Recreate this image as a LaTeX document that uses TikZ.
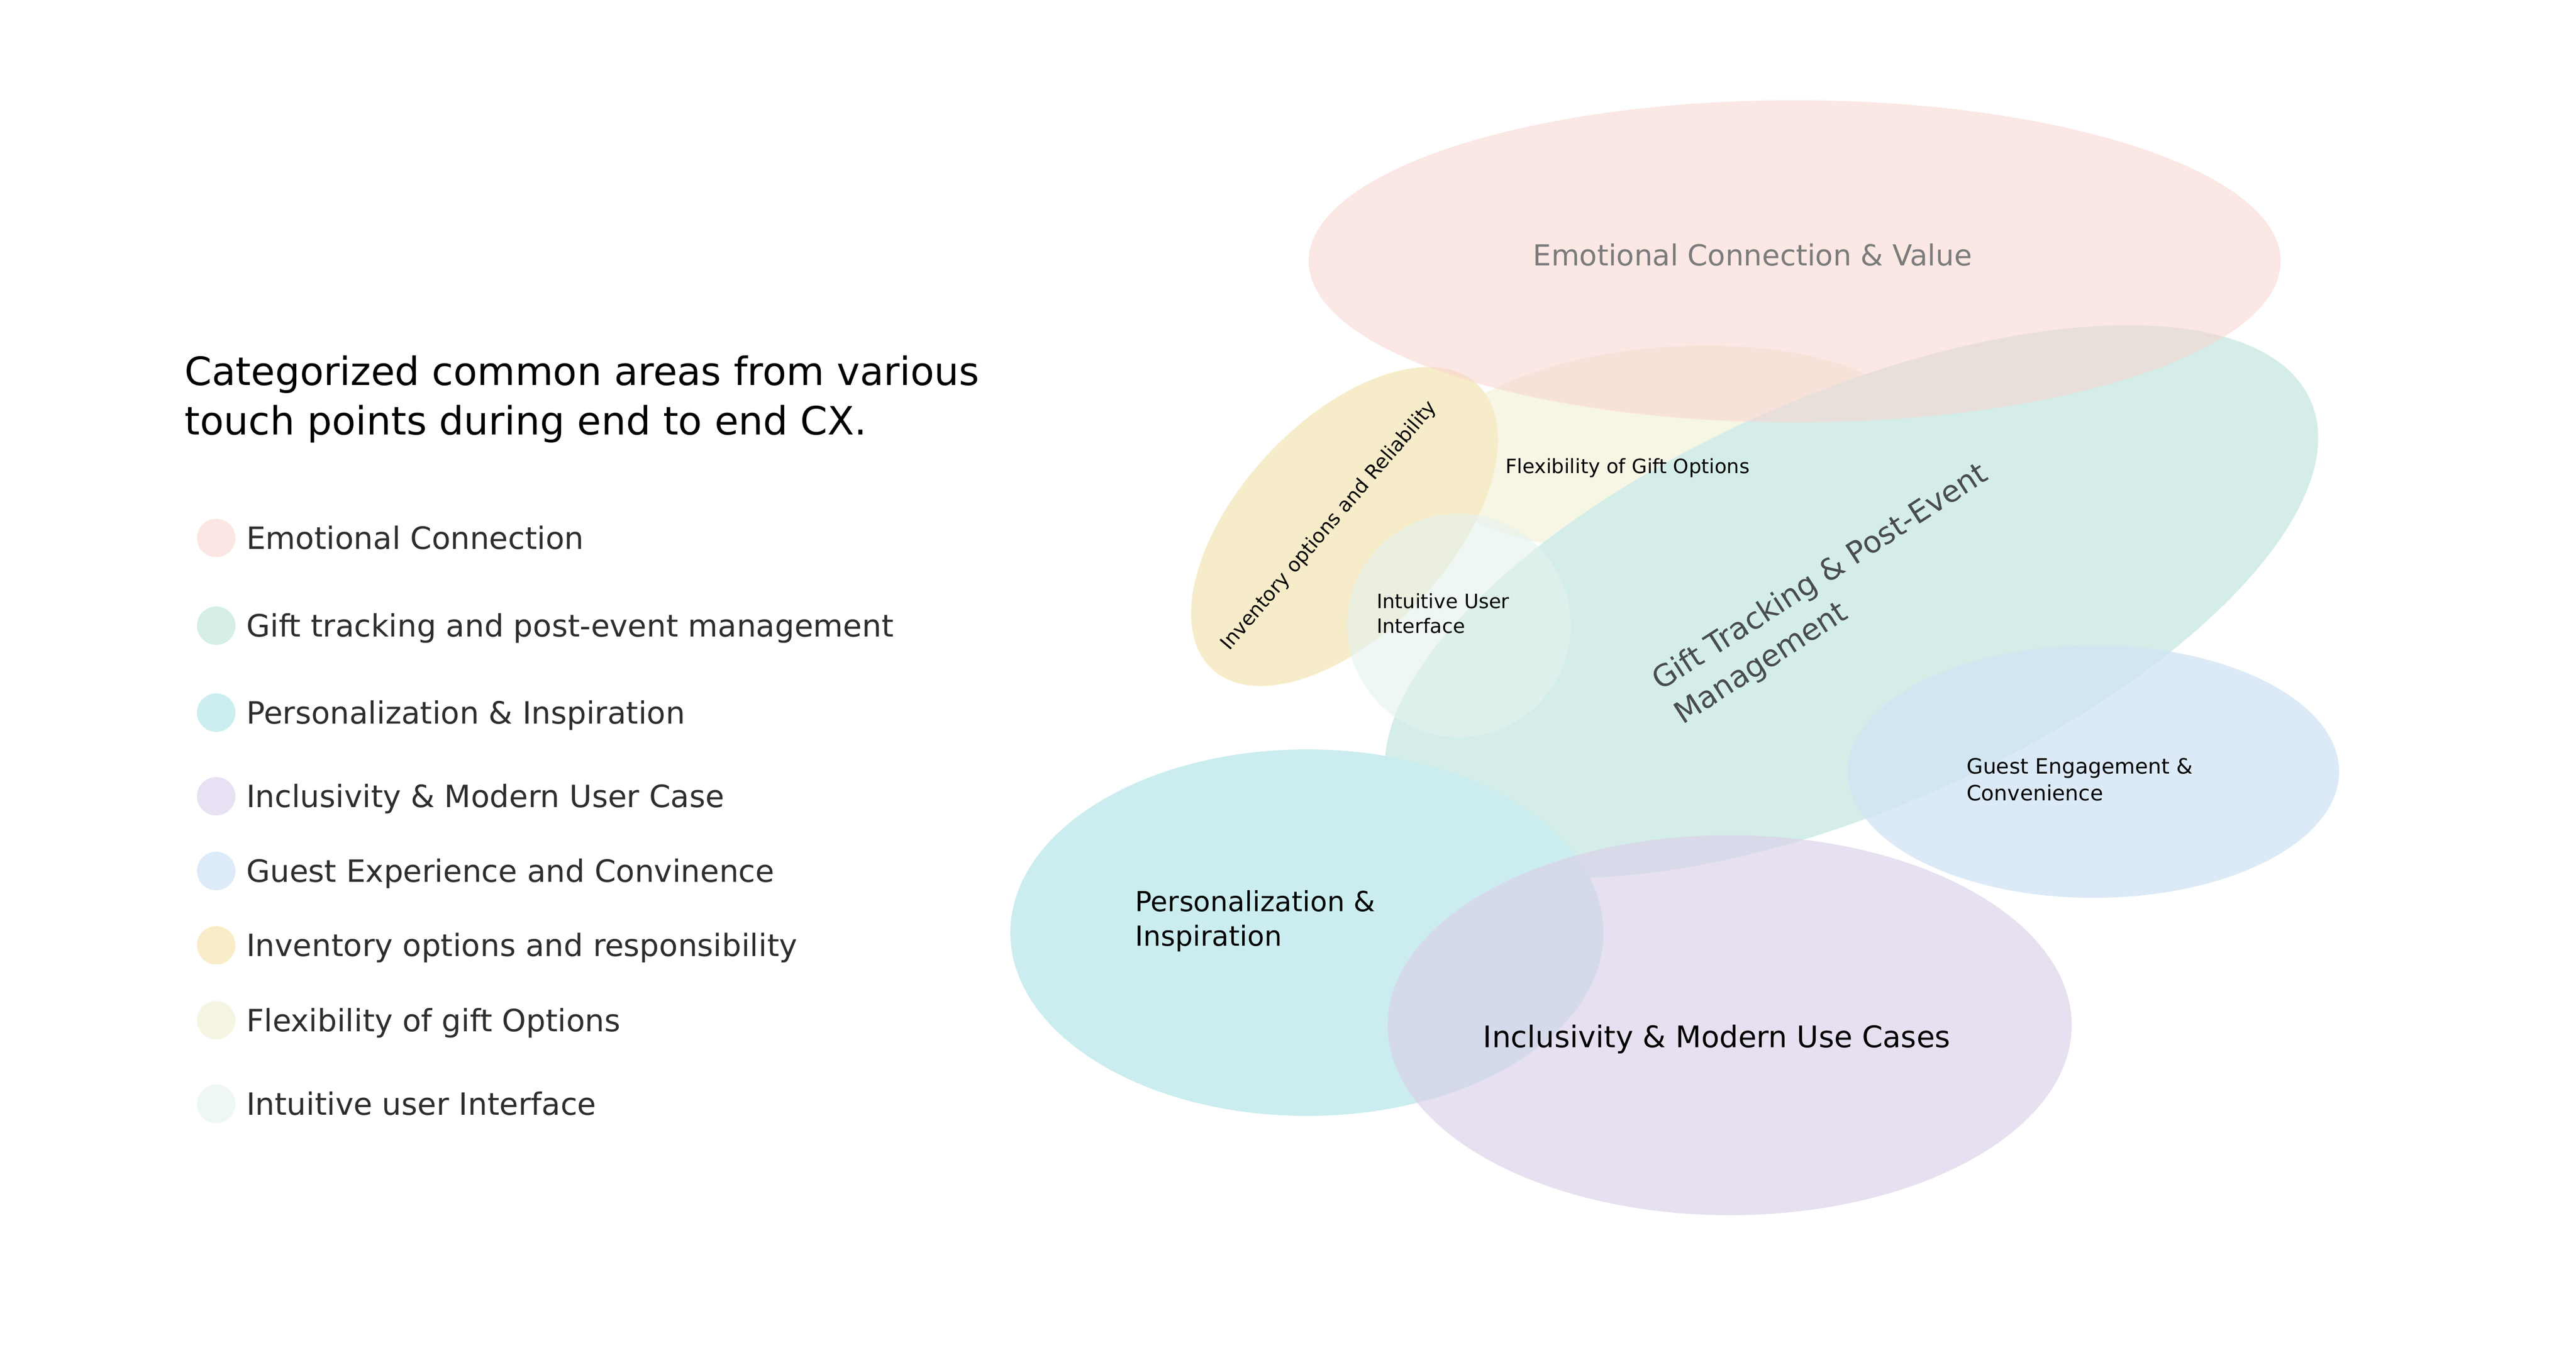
\documentclass[tikz,border=0pt]{standalone}
\usepackage{fontspec}
\setmainfont{DejaVu Sans}
\definecolor{pinkB}{RGB}{248,213,209}
\definecolor{greenC}{RGB}{212,237,232}
\definecolor{creamC}{RGB}{247,245,228}
\definecolor{yellowC}{RGB}{247,236,201}
\definecolor{intuB}{RGB}{227,242,238}
\definecolor{cyanC}{RGB}{203,237,240}
\definecolor{purpleB}{RGB}{219,209,234}
\definecolor{guestB}{RGB}{208,228,243}
\definecolor{dotPink}{RGB}{251,230,228}
\definecolor{dotGreen}{RGB}{213,238,232}
\definecolor{dotCyan}{RGB}{204,238,240}
\definecolor{dotPurple}{RGB}{232,225,243}
\definecolor{dotBlue}{RGB}{220,235,247}
\definecolor{dotYellow}{RGB}{248,237,200}
\definecolor{dotCream}{RGB}{246,245,228}
\definecolor{dotIntu}{RGB}{238,247,245}
\definecolor{txtGrey}{RGB}{123,123,123}
\definecolor{txtDark}{RGB}{72,76,76}
\definecolor{txtLeg}{RGB}{45,45,45}
\tikzset{
  lbl/.style={inner sep=0pt, outer sep=0pt, text=black},
  legtxt/.style={lbl, text=txtLeg, anchor=base west, font=\fontsize{10.63}{13}\selectfont},
  legdot/.style={circle, inner sep=0pt, minimum size=0.468cm},
  small/.style={lbl, anchor=base west, font=\fontsize{6.85}{8.4}\selectfont},
}
\begin{document}
\begin{tikzpicture}[x=0.02cm,y=-0.02cm]
\useasboundingbox (0,0) rectangle (1568,825.6);
\fill[white] (0,0) rectangle (1568,825.6);

% ---- ellipses ----
\fill[creamC, rotate around={4:(1018,273)}] (1018,273) ellipse [x radius=150, y radius=62];
\fill[yellowC, rotate around={47:(818.4,320.4)}] (818.4,320.4) ellipse [x radius=118.4, y radius=64.1];
\fill[greenC, rotate around={23.6:(1127,366)}] (1127,366) ellipse [x radius=305, y radius=126];
\fill[pinkB, fill opacity=0.57] (1092.4,159) ellipse [x radius=295.8, y radius=98];
\fill[intuB, fill opacity=0.6] (888,380.5) circle [radius=68];
\fill[cyanC] (795.5,567.5) ellipse [x radius=180.5, y radius=111.5];
\fill[purpleB, fill opacity=0.67] (1052.8,623.8) ellipse [x radius=208.2, y radius=115.6];
\fill[guestB, fill opacity=0.75] (1274.3,469.5) ellipse [x radius=149.5, y radius=76.8];

% ---- labels in diagram ----
\node[lbl, text=txtGrey, anchor=base, font=\fontsize{10.03}{12}\selectfont] (emo) at (1066.7,161.6) {Emotional Connection \& Value};
\node[small] (flex) at (916.6,288) {Flexibility of Gift Options};
\node[lbl, rotate=49.5, font=\fontsize{6.85}{8.4}\selectfont] (inv) at (809,320) {Inventory options and Reliability};
\node[small] (intu1) at (838,370.3) {Intuitive User};
\node[small] (intu2) at (838,385.1) {Interface};
\node[lbl, text=txtDark, rotate=32.8, align=left, font=\fontsize{10.43}{14}\selectfont] (gift) at (1115,362) {Gift Tracking \& Post-Event\\Management};
\node[small, font=\fontsize{7.3}{8.4}\selectfont] (guest1) at (1197.1,470.8) {Guest Engagement \&};
\node[small, font=\fontsize{7.3}{8.4}\selectfont] (guest2) at (1197.1,487.3) {Convenience};
\node[lbl, anchor=base west, font=\fontsize{9.58}{12}\selectfont] (pers1) at (691,554.6) {Personalization \&};
\node[lbl, anchor=base west, font=\fontsize{9.58}{12}\selectfont] (pers2) at (691,575.6) {Inspiration};
\node[lbl, anchor=base, font=\fontsize{10.32}{12}\selectfont] (incl) at (1045,637.3) {Inclusivity \& Modern Use Cases};

% ---- title ----
\node[lbl, anchor=base west, font=\fontsize{13.5}{17}\selectfont] (title1) at (112.5,234.3) {Categorized common areas from various};
\node[lbl, anchor=base west, font=\fontsize{13.5}{17}\selectfont] (title2) at (112.5,264.5) {touch points during end to end CX.};

% ---- legend ----
\node[legdot, fill=dotPink]   (d1) at (131.6,327.4) {};
\node[legdot, fill=dotGreen]  (d2) at (131.6,380.7) {};
\node[legdot, fill=dotCyan]   (d3) at (131.6,433.6) {};
\node[legdot, fill=dotPurple] (d4) at (131.6,484.5) {};
\node[legdot, fill=dotBlue]   (d5) at (131.6,530.0) {};
\node[legdot, fill=dotYellow] (d6) at (131.6,575.2) {};
\node[legdot, fill=dotCream]  (d7) at (131.6,620.8) {};
\node[legdot, fill=dotIntu]   (d8) at (131.6,671.7) {};
\node[legtxt] (l1) at (150,334.2) {Emotional Connection};
\node[legtxt] (l2) at (150,387.5) {Gift tracking and post-event management};
\node[legtxt] (l3) at (150,440.4) {Personalization \& Inspiration};
\node[legtxt] (l4) at (150,491.3) {Inclusivity \& Modern User Case};
\node[legtxt] (l5) at (150,536.8) {Guest Experience and Convinence};
\node[legtxt] (l6) at (150,582.0) {Inventory options and responsibility};
\node[legtxt] (l7) at (150,627.6) {Flexibility of gift Options};
\node[legtxt] (l8) at (150,678.5) {Intuitive user Interface};
\end{tikzpicture}
\end{document}
